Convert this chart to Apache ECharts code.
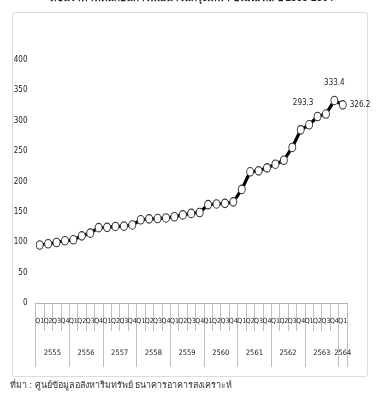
<!DOCTYPE html>
<html><head><meta charset="utf-8">
<script src="https://cdn.jsdelivr.net/npm/echarts@6/dist/echarts.min.js"></script>
<style>html,body{margin:0;padding:0;background:#fff;}#c{width:383px;height:404px;}</style>
</head><body><div id="c"></div>
<script>
var titleText = 'ดัชนีราคาที่ดินก่อนการพัฒนาในกรุงเทพฯ-ปริมณฑล ปี 2555-2564';
var sourceText = 'ที่มา : ศูนย์ข้อมูลอสังหาริมทรัพย์ ธนาคารอาคารสงเคราะห์';
var quarters = ['Q1','Q2','Q3','Q4','Q1','Q2','Q3','Q4','Q1','Q2','Q3','Q4','Q1','Q2','Q3','Q4','Q1','Q2','Q3','Q4','Q1','Q2','Q3','Q4','Q1','Q2','Q3','Q4','Q1','Q2','Q3','Q4','Q1','Q2','Q3','Q4','Q1'];
var years = ['2555','2556','2557','2558','2559','2560','2561','2562','2563','2564'];
var yearStart = [0,4,8,12,16,20,24,28,32,36];
var yearEnd = [4,8,12,16,20,24,28,32,36,37];
var values = [95.5,97.5,99.6,102.4,104,110.5,115,124,124.5,126,126.5,128.5,137,138.5,139,140,142,145,147.5,149,162,163,164,166.5,187,216,217.5,222.5,228.5,235,256,285,293.3,307,311,333.4,326.2];
var labeledIdx = [32,35,36];
var yTicks = [0,50,100,150,200,250,300,350,400];

var font = '"Liberation Sans Narrow","DejaVu Sans Condensed","Roboto Condensed","Arial Narrow",sans-serif';
var yearBounds = [0].concat(yearEnd);
var yearCenters = yearStart.map(function(s,i){return (s+yearEnd[i])/2;});

var seriesData = values.map(function(v,i){
  var item = {value:v};
  if (labeledIdx.indexOf(i) >= 0) {
    var pos = 'top', off = [0,-4];
    if (i === 32) { off = [-6,-8]; }
    if (i === 36) { pos = 'right'; off = [-2,0]; }
    item.label = {show:true, position:pos, offset:off, distance:5,
      formatter: function(p){return p.value.toFixed(1);},
      fontFamily:font, fontSize:8, color:'#222'};
  }
  return item;
});

var chart = echarts.init(document.getElementById('c'), null, {renderer:'canvas'});
chart.setOption({
  backgroundColor:'#fff',
  animation:false,
  graphic:[
    {type:'rect', shape:{x:12.5,y:12.5,width:355,height:364,r:2}, style:{fill:'none',stroke:'#dcdcdc',lineWidth:1}, z:-10},
    {type:'text', left:'center', top:-7, style:{text:titleText, fontSize:10, fontWeight:'bold', fill:'#222', fontFamily:'sans-serif'}},
    {type:'text', left:10, top:381, style:{text:sourceText, fontSize:9, fill:'#333', fontFamily:'sans-serif'}}
  ],
  grid:{left:35.5, right:36, top:60, bottom:101, containLabel:false},
  xAxis:[
    {type:'category', data:quarters, boundaryGap:true, position:'bottom',
     axisLine:{show:true, lineStyle:{color:'#b0b0b0', width:1}},
     axisTick:{show:true, interval:0, length:28, lineStyle:{color:'#c0c0c0'}},
     axisLabel:{interval:0, margin:15, fontSize:7, fontFamily:font, color:'#222'},
     splitLine:{show:false}},
    {type:'value', min:0, max:37, position:'bottom',
     axisLine:{show:false}, splitLine:{show:false},
     axisTick:{show:true, customValues:yearBounds, length:64, lineStyle:{color:'#c0c0c0'}},
     axisLabel:{show:true, customValues:yearCenters, margin:46, fontSize:7.5, fontFamily:font, color:'#222',
       formatter:function(v){var k=yearCenters.indexOf(v); return k>=0?years[k]:'';}}}
  ],
  yAxis:{type:'value', min:0, max:400, interval:50,
    axisLine:{show:false}, axisTick:{show:false}, splitLine:{show:false},
    axisLabel:{margin:8, fontSize:8, fontFamily:font, color:'#222',
      customValues:yTicks}},
  series:[{type:'line', xAxisIndex:0, data:seriesData,
    symbol:'circle', symbolSize:[7,8.5], showAllSymbol:true,
    lineStyle:{color:'#000', width:3.2},
    itemStyle:{color:'#fff', borderColor:'#333', borderWidth:1},
    emphasis:{disabled:true}}]
});
</script></body></html>
